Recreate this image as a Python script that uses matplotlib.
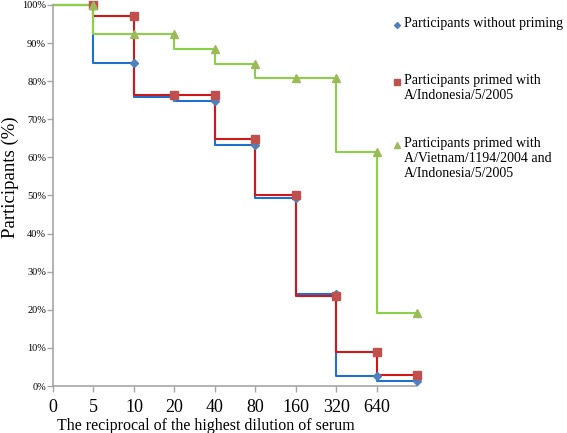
import matplotlib
matplotlib.use("Agg")
import matplotlib.pyplot as plt
import numpy as np

# dilution categories (position 9 is the unlabelled last point)
dilutions = ["0", "5", "10", "20", "40", "80", "160", "320", "640"]
no_priming = [100, 100, 84.8, 75.9, 74.7, 63.3, 49.4, 24.1, 2.5, 1.3]
primed_indo = [100, 100, 97.1, 76.5, 76.5, 64.7, 50.0, 23.5, 8.8, 2.9]
primed_both = [100, 100, 92.3, 92.3, 88.5, 84.6, 80.8, 80.8, 61.5, 19.2]

legend_labels = ["Participants without priming",
                 "Participants primed with\nA/Indonesia/5/2005",
                 "Participants primed with\nA/Vietnam/1194/2004 and\nA/Indonesia/5/2005"]

plt.rcParams['font.family'] = ['Liberation Serif', 'DejaVu Serif']

fig = plt.figure(figsize=(5.67, 4.33), dpi=100)
ax = fig.add_axes([0.0935, 0.1085, 0.642, 0.88])

x = np.arange(len(no_priming))
series = [
    (no_priming, "#1F6FD0", "#4F81BD", "D", 4),
    (primed_indo, "#D01818", "#C0504D", "s", 6),
    (primed_both, "#8CD048", "#9BBB59", "^", 6),
]
for vals, lc, mc, mk, ms in series:
    ax.plot(x, vals, drawstyle="steps-pre", color=lc, linewidth=1.5, zorder=2,
            clip_on=False)
    ax.plot(x[1:], vals[1:], linestyle="none", marker=mk, markersize=ms,
            color=mc, zorder=3, clip_on=False)

ax.set_xlim(0, 9)
ax.set_ylim(0, 100)
ax.set_xticks(np.arange(len(dilutions)))
ax.set_xticklabels(dilutions, fontsize=13)
ax.set_yticks(np.arange(0, 101, 10))
ax.set_yticklabels([f"{v}%" for v in range(0, 101, 10)], fontsize=7.5)
for s in ["top", "right"]:
    ax.spines[s].set_visible(False)
for s in ["left", "bottom"]:
    ax.spines[s].set_color("#A6A6A6")
    ax.spines[s].set_linewidth(1.2)
ax.tick_params(axis="both", colors="#A6A6A6", length=4, width=1)
ax.tick_params(axis="x", labelcolor="black", pad=5)
ax.tick_params(axis="y", labelcolor="black", pad=1)

ax.set_xlabel("The reciprocal of the highest dilution of serum", fontsize=11.5)
ax.xaxis.set_label_coords(0.42, -0.085)
ax.set_ylabel("Participants (%)", fontsize=13.5)
ax.yaxis.set_label_coords(-0.093, 0.547)

# legend drawn by hand on the right
leg_y = [25, 82, 145]
for (vals, lc, mc, mk, ms), ly, lab in zip(series, leg_y, legend_labels):
    fy = 1 - ly / 433
    fig.lines.append(plt.Line2D([397 / 567], [fy], marker=mk, markersize=ms - 1,
                                color=mc, linestyle="none", transform=fig.transFigure))
    fig.text(404 / 567, fy + 8 / 433, lab, fontsize=10, va="top", ha="left",
             linespacing=1.2)

fig.savefig("out.png", dpi=100)
